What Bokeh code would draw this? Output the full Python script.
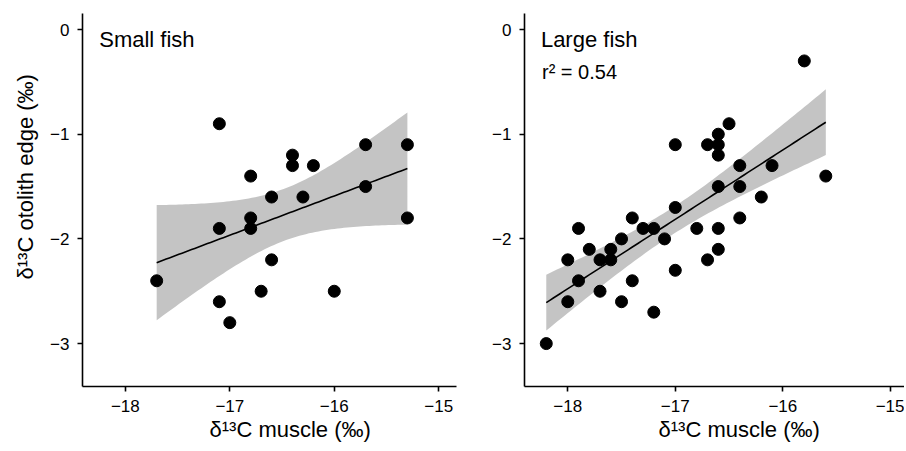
import numpy as np
from bokeh.plotting import figure
from bokeh.layouts import row
from bokeh.models import Range1d, FixedTicker, Label, Title, CustomJSTickFormatter
from bokeh.embed import file_html
from bokeh.resources import INLINE

# ---------------- data ----------------
small_x = [-17.1, -15.7, -15.3, -16.4, -16.4, -16.2, -16.8, -16.6, -16.3, -15.7,
           -15.3, -16.8, -16.8, -17.1, -16.6, -17.7, -16.7, -16.0, -17.1, -17.0]
small_y = [-0.9, -1.1, -1.1, -1.2, -1.3, -1.3, -1.4, -1.6, -1.6, -1.5,
           -1.8, -1.8, -1.9, -1.9, -2.2, -2.4, -2.5, -2.5, -2.6, -2.8]

large_x = [-15.8, -16.5, -16.6, -17.0, -16.7, -16.6, -16.6, -16.4, -16.1, -15.6,
           -16.6, -16.4, -16.2, -17.0, -17.4, -16.4, -17.9, -17.3, -17.2, -16.8,
           -16.6, -17.5, -17.1, -17.8, -17.6, -16.6, -18.0, -17.7, -17.6, -16.7,
           -17.0, -17.9, -17.4, -17.7, -18.0, -17.5, -17.2, -18.2]
large_y = [-0.3, -0.9, -1.0, -1.1, -1.1, -1.1, -1.2, -1.3, -1.3, -1.4,
           -1.5, -1.5, -1.6, -1.7, -1.8, -1.8, -1.9, -1.9, -1.9, -1.9,
           -1.9, -2.0, -2.0, -2.1, -2.1, -2.1, -2.2, -2.2, -2.2, -2.2,
           -2.3, -2.4, -2.4, -2.5, -2.6, -2.6, -2.7, -3.0]

x_ticks = [-18, -17, -16, -15]
x_tick_labels = ["\u221218", "\u221217", "\u221216", "\u221215"]
y_ticks = [-3, -2, -1, 0]
y_tick_labels = ["\u22123", "\u22122", "\u22121", "0"]

panel_titles = ["Small fish", "Large fish"]
r2_text = "r\u00b2 = 0.54"
x_label = "\u03b4\u00b9\u00b3C muscle (\u2030)"
y_label = "\u03b4\u00b9\u00b3C otolith edge (\u2030)"

# two-sided 95% t quantiles by residual degrees of freedom
T95 = {18: 2.100922, 36: 2.028094}

FONT = "Liberation Sans"
BAND = "#c4c4c4"
Y_RANGE = (-3.41, 0.153)


def lm_band(xs, ys, npts=80):
    x = np.asarray(xs, float)
    y = np.asarray(ys, float)
    n = len(x)
    xm, ym = x.mean(), y.mean()
    sxx = ((x - xm) ** 2).sum()
    b = ((x - xm) * (y - ym)).sum() / sxx
    a = ym - b * xm
    resid = y - (a + b * x)
    s = np.sqrt((resid ** 2).sum() / (n - 2))
    g = np.linspace(x.min(), x.max(), npts)
    fit = a + b * g
    se = s * np.sqrt(1.0 / n + (g - xm) ** 2 / sxx)
    t = T95[n - 2]
    return g, fit, fit - t * se, fit + t * se


def tick_formatter(tv, tl):
    return CustomJSTickFormatter(
        args=dict(tvals=tv, tlabs=tl),
        code="const i = tvals.indexOf(tick); return i >= 0 ? tlabs[i] : String(tick);")


def make_panel(xs, ys, xr, width, bl, br, title_text, xlab_offset, extra=None, ylab=False):
    p = figure(width=width, height=449, output_backend="svg", toolbar_location=None,
               x_range=Range1d(*xr), y_range=Range1d(*Y_RANGE),
               min_border_left=bl, min_border_right=br,
               min_border_top=13, min_border_bottom=63)
    p.outline_line_color = None
    p.xgrid.visible = False
    p.ygrid.visible = False
    p.background_fill_color = "white"
    p.border_fill_color = "white"

    for ax, tv, tl in ((p.xaxis[0], x_ticks, x_tick_labels),
                       (p.yaxis[0], y_ticks, y_tick_labels)):
        ax.ticker = FixedTicker(ticks=tv)
        ax.formatter = tick_formatter(tv, tl)
        ax.minor_tick_line_color = None
        ax.axis_line_color = "black"
        ax.axis_line_width = 1.6
        ax.major_tick_line_color = "black"
        ax.major_tick_line_width = 1.6
        ax.major_tick_in = 0
        ax.major_tick_out = 5
        ax.major_label_text_font = FONT
        ax.major_label_text_font_size = "17px"
        ax.major_label_text_color = "black"
    p.xaxis[0].major_label_standoff = 8
    p.yaxis[0].major_label_standoff = 8

    g, fit, lo, hi = lm_band(xs, ys)
    p.varea(x=g, y1=lo, y2=hi, fill_color=BAND, fill_alpha=1.0)
    p.line(g, fit, line_color="black", line_width=1.6)
    p.scatter(xs, ys, marker="circle", size=12, fill_color="black", line_color="black")

    p.add_layout(Label(x=-18.25, y=-0.10, text=title_text, text_font=FONT,
                       text_font_size="22px", text_color="black",
                       text_align="left", text_baseline="alphabetic"))
    if extra is not None:
        p.add_layout(Label(x=-18.24, y=-0.41, text=extra, text_font=FONT,
                           text_font_size="20px", text_color="black",
                           text_align="left", text_baseline="alphabetic"))

    # axis titles (placed as layout titles so they sit where the reference has them)
    p.add_layout(Title(text=x_label, align="left", offset=xlab_offset, standoff=0,
                       vertical_align="bottom", text_font=FONT, text_font_size="22px",
                       text_font_style="normal", text_color="black"), "below")
    if ylab:
        p.add_layout(Title(text=y_label, align="left", offset=107, standoff=20,
                           vertical_align="bottom", text_font=FONT, text_font_size="22px",
                           text_font_style="normal", text_color="black"), "left")
    return p


p1 = make_panel(small_x, small_y, (-18.41, -14.83), 466, 82, 10, panel_titles[0],
                xlab_offset=127, ylab=True)
p2 = make_panel(large_x, large_y, (-18.4025, -14.868), 438, 58, 0, panel_titles[1],
                xlab_offset=134, extra=r2_text)

layout = row(p1, p2)
open("out.html", "w").write(file_html(layout, INLINE))
